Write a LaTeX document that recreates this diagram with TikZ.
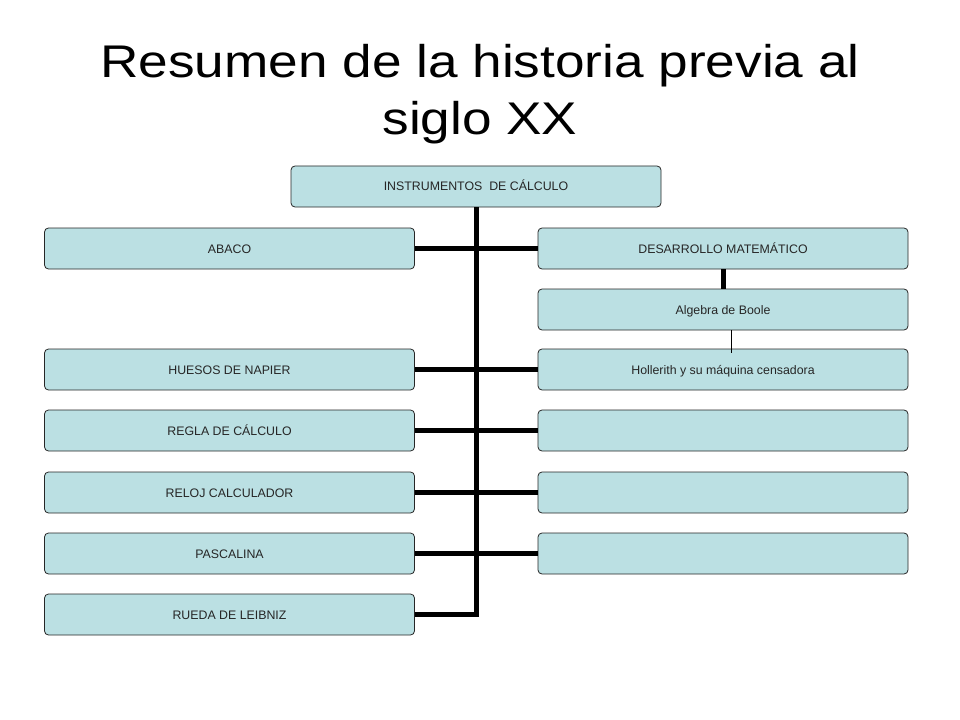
\documentclass[tikz,border=0pt]{standalone}
\usepackage{fontspec}
\setmainfont{Liberation Sans}
\begin{document}
\begin{tikzpicture}[x=1bp,y=-1bp,
  box/.style={draw=black!85, line width=0.8bp, fill=boxblue, rounded corners=4bp,
    minimum width=370bp, minimum height=41bp, inner sep=0pt,
    text height=9bp, text depth=0bp,
    font=\fontsize{12.4}{14}\selectfont, text=black!85},
  titletext/.style={font=\fontsize{46}{57}\selectfont, anchor=base, inner sep=0pt},
  thick link/.style={line width=5bp, black},
  thin link/.style={line width=0.8bp, black}]
\definecolor{boxblue}{HTML}{BBE0E3}
\useasboundingbox (0,0) rectangle (960,720);
\node[titletext] (title1) at (480,78) {\scalebox{1.16}[1]{Resumen de la historia previa al}};
\node[titletext] (title2) at (480,135) {\scalebox{1.16}[1]{siglo XX}};
% top
\node[box] (top) at (476,186.5) {INSTRUMENTOS\ \ DE CÁLCULO};
% left column
\node[box] (abaco) at (229.5,248.5) {ABACO};
\node[box] (huesos) at (229.5,369.5) {HUESOS DE NAPIER};
\node[box] (regla) at (229.5,430.5) {REGLA DE CÁLCULO};
\node[box] (reloj) at (229.5,492.5) {RELOJ CALCULADOR};
\node[box] (pascal) at (229.5,553.5) {PASCALINA};
\node[box] (rueda) at (229.5,614.5) {RUEDA DE LEIBNIZ};
% right column
\node[box] (desarrollo) at (723,248.5) {DESARROLLO MATEMÁTICO};
\node[box] (algebra) at (723,309.5) {Algebra de Boole};
\node[box] (hollerith) at (723,369.5) {Hollerith y su máquina\ censadora};
\node[box] (r4) at (723,430.5) {};
\node[box] (r5) at (723,492.5) {};
\node[box] (r6) at (723,553.5) {};
% connectors
\draw[thick link] (top.south) |- (rueda.east);
\draw[thick link] (abaco.east) -- (desarrollo.west);
\draw[thick link] (huesos.east) -- (hollerith.west);
\draw[thick link] (regla.east) -- (r4.west);
\draw[thick link] (reloj.east) -- (r5.west);
\draw[thick link] (pascal.east) -- (r6.west);
\draw[thick link] (desarrollo.south) -- (algebra.north);
\draw[thin link] ([xshift=8bp]algebra.south) -- ++(0,23);
\end{tikzpicture}
\end{document}
